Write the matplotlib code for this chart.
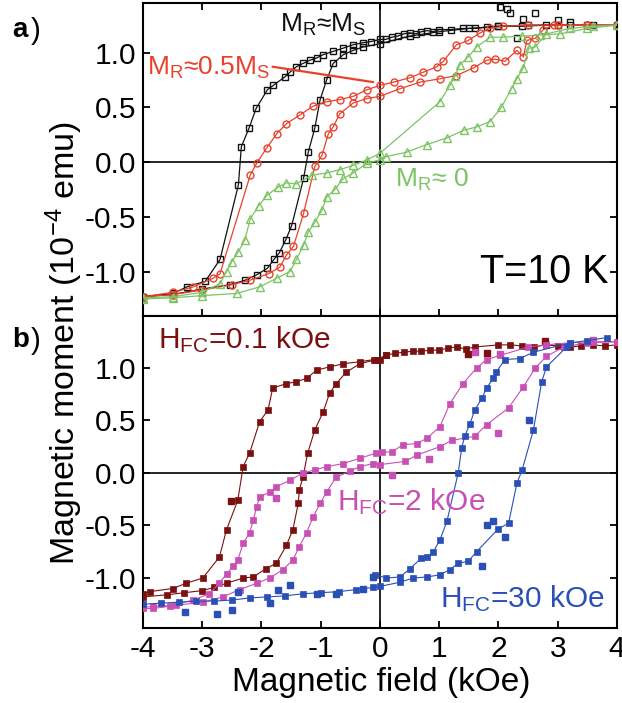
import matplotlib.pyplot as plt

# fonts: Arial-like text, mathtext in the same family
plt.rcParams['font.family'] = ['Liberation Sans', 'DejaVu Sans']
plt.rcParams['mathtext.fontset'] = 'custom'
plt.rcParams['mathtext.rm'] = 'Liberation Sans'
plt.rcParams['mathtext.it'] = 'Liberation Sans:italic'
plt.rcParams['mathtext.bf'] = 'Liberation Sans:bold'
plt.rcParams['axes.unicode_minus'] = False

# ---------------- panel a data ----------------
# black squares, M_R ~ M_S
black_dn_x = [3.6, 3.2, 2.8, 2.4, 2.0, 1.8, 1.6, 1.4, 1.2, 1.0, 0.9, 0.8, 0.7, 0.6, 0.5, 0.4, 0.3, 0.2, 0.1, 0.0,
              -0.15, -0.29, -0.46, -0.62, -0.79, -0.96, -1.07, -1.18, -1.30, -1.41, -1.52, -1.60, -1.80, -1.90,
              -2.09, -2.21, -2.34, -2.39, -2.70, -2.95, -3.26, -3.49, -4.0]
black_dn_y = [1.25, 1.25, 1.25, 1.24, 1.24, 1.23, 1.22, 1.22, 1.21, 1.21, 1.19, 1.20, 1.19, 1.17, 1.18, 1.17, 1.15, 1.14, 1.12, 1.12,
              1.10, 1.09, 1.07, 1.04, 1.01, 0.98, 0.95, 0.93, 0.90, 0.87, 0.82, 0.78, 0.70, 0.66,
              0.49, 0.31, 0.14, -0.21, -0.89, -1.09, -1.14, -1.20, -1.23]
black_up_x = [-4.0, -3.5, -3.0, -2.53, -2.28, -2.08, -1.90, -1.79, -1.70, -1.59, -1.49, -1.29, -1.21, -1.10,
              -1.01, -0.90, -0.79, -0.62, -0.45, -0.29, 0.0, 0.5, 1.0, 1.5, 2.0, 2.5, 3.0, 3.5, 4.0]
black_up_y = [-1.23, -1.21, -1.16, -1.12, -1.08, -1.03, -0.97, -0.89, -0.83, -0.71, -0.58, -0.15, 0.09, 0.31,
              0.57, 0.75, 0.90, 0.98, 1.02, 1.05, 1.08, 1.15, 1.19, 1.22, 1.24, 1.25, 1.25, 1.25, 1.25]
black_ex_x = [2.03, 2.14, 2.19, 2.31, 2.42, 2.62, 3.0, 3.2]
black_ex_y = [1.42, 1.40, 1.36, 1.13, 1.31, 1.36, 1.30, 1.28]

# red circles, M_R ~ 0.5 M_S
red_dn_x = [4.0, 3.5, 3.0, 2.5, 2.08, 1.86, 1.69, 1.49, 1.29, 1.07, 0.96, 0.73, 0.51, 0.23, 0.0, -0.22,
            -0.45, -0.68, -0.90, -1.13, -1.35, -1.58, -1.74, -1.91, -2.08, -2.19, -2.70, -2.81, -3.15, -3.5, -4.0]
red_dn_y = [1.25, 1.25, 1.25, 1.25, 1.24, 1.22, 1.18, 1.11, 1.07, 0.92, 0.87, 0.82, 0.77, 0.73, 0.70, 0.66,
            0.60, 0.57, 0.55, 0.51, 0.43, 0.35, 0.26, 0.13, -0.01, -0.12, -1.02, -1.06, -1.14, -1.19, -1.23]
red_up_x = [-4.0, -3.5, -3.0, -2.5, -2.2, -1.88, -1.69, -1.58, -1.46, -1.29, -1.10, -0.98, -0.87, -0.79,
            -0.68, -0.45, -0.22, 0.0, 0.34, 0.68, 1.01, 1.29, 1.58, 1.80, 1.94, 2.11, 2.31, 2.42, 2.48, 2.62,
            2.76, 2.93, 3.5, 4.0]
red_up_y = [-1.23, -1.21, -1.17, -1.12, -1.08, -1.02, -0.96, -0.85, -0.77, -0.47, -0.04, 0.06, 0.26, 0.32,
            0.44, 0.54, 0.58, 0.60, 0.67, 0.73, 0.76, 0.79, 0.86, 0.93, 0.94, 0.92, 1.02, 0.96, 1.11, 1.13,
            1.21, 1.25, 1.25, 1.25]

# green triangles, M_R ~ 0
green_dn_x = [4.0, 3.5, 3.04, 2.70, 2.40, 2.08, 1.86, 1.63, 1.49, 1.35, 1.27, 1.18, 1.01, 0.0, -0.22, -0.45,
              -0.68, -0.90, -1.15, -1.41, -1.58, -1.72, -1.90, -2.05, -2.19, -2.28, -2.39, -2.50, -2.59,
              -2.70, -3.0, -3.5, -4.0]
green_dn_y = [1.25, 1.22, 1.17, 1.16, 1.15, 1.14, 1.14, 1.05, 0.96, 0.89, 0.79, 0.70, 0.55, 0.08, 0.02, -0.03,
              -0.07, -0.10, -0.12, -0.20, -0.19, -0.23, -0.30, -0.40, -0.52, -0.71, -0.82, -0.91, -1.00,
              -1.11, -1.19, -1.23, -1.24]
green_up_x = [-4.0, -3.5, -3.0, -2.42, -2.03, -1.74, -1.52, -1.41, -1.29, -1.21, -1.10, -0.98, -0.90, -0.76,
              -0.62, -0.45, -0.22, 0.0, 0.11, 0.45, 0.79, 1.13, 1.41, 1.63, 1.86, 2.05, 2.22, 2.31, 2.42,
              2.51, 2.62, 2.81, 3.2, 3.6, 4.0]
green_up_y = [-1.25, -1.24, -1.22, -1.20, -1.14, -1.06, -1.00, -0.89, -0.76, -0.64, -0.55, -0.44, -0.32, -0.25,
              -0.15, -0.10, -0.01, 0.02, 0.05, 0.09, 0.16, 0.22, 0.29, 0.32, 0.37, 0.50, 0.67, 0.76, 0.86,
              1.04, 1.05, 1.17, 1.22, 1.24, 1.25]

# ---------------- panel b data ----------------
# dark red, H_FC = 0.1 kOe
dr_dn_x = [4.0, 3.8, 3.6, 3.4, 3.2, 3.0, 2.8, 2.6, 2.4, 2.2, 2.0, 1.6, 1.45, 1.3, 1.15, 1.0, 0.85, 0.7, 0.55,
           0.4, 0.25, 0.1, 0.0, -0.1, -0.34, -0.62, -0.85, -1.07, -1.24, -1.41, -1.58, -1.81, -1.89, -2.03,
           -2.20, -2.31, -2.40, -2.59, -2.71, -2.99, -3.27, -3.50, -3.89, -4.0]
dr_dn_y = [1.22, 1.21, 1.22, 1.21, 1.20, 1.21, 1.22, 1.20, 1.21, 1.22, 1.22, 1.20, 1.18, 1.20, 1.19, 1.17, 1.17,
           1.16, 1.16, 1.15, 1.14, 1.12, 1.08, 1.08, 1.06, 1.04, 1.01, 0.98, 0.90, 0.87, 0.85, 0.81, 0.60, 0.49,
           0.19, 0.06, -0.26, -0.54, -0.80, -1.00, -1.05, -1.10, -1.13, -1.15]
dr_up_x = [-4.0, -3.6, -3.3, -3.0, -2.8, -2.59, -2.31, -2.14, -1.92, -1.75, -1.58, -1.47, -1.38, -1.36, -1.30,
           -1.22, -1.10, -0.96, -0.85, -0.74, -0.57, -0.34, -0.06, 0.1]
dr_up_y = [-1.18, -1.16, -1.14, -1.12, -1.09, -1.05, -1.00, -0.99, -0.91, -0.86, -0.69, -0.54, -0.29, -0.16,
           -0.04, 0.19, 0.41, 0.58, 0.76, 0.85, 0.96, 1.04, 1.08, 1.12]
dr_ex_x = [1.80, -2.51, 2.78, 1.49]
dr_ex_y = [1.14, -0.27, 1.26, 1.13]

# magenta, H_FC = 2 kOe
mg_dn_x = [4.0, 3.6, 3.2, 2.8, 2.5, 2.03, 1.80, 1.63, 1.40, 1.18, 1.01, 0.79, 0.62, 0.39, 0.20, 0.03, -0.06,
           -0.34, -0.62, -0.90, -1.10, -1.30, -1.52, -1.75, -1.86, -2.03, -2.08, -2.14, -2.20, -2.31, -2.40,
           -2.48, -2.59, -2.71, -2.88, -3.16, -3.55, -3.83, -4.0]
mg_dn_y = [1.25, 1.25, 1.24, 1.22, 1.20, 1.12, 1.08, 1.00, 0.85, 0.66, 0.44, 0.33, 0.28, 0.27, 0.20, 0.20, 0.19,
           0.14, 0.09, 0.06, 0.03, 0.00, -0.07, -0.13, -0.18, -0.23, -0.32, -0.45, -0.57, -0.67, -0.83,
           -0.89, -0.96, -1.05, -1.15, -1.21, -1.27, -1.29, -1.29]
mg_up_x = [-4.0, -3.83, -3.44, -2.99, -2.65, -2.37, -2.08, -1.86, -1.64, -1.47, -1.36, -1.24, -1.13, -1.01,
           -0.90, -0.74, -0.50, -0.34, -0.12, 0.0, 0.42, 0.62, 1.01, 1.21, 1.60, 1.80, 2.17, 2.42,
           2.62, 2.81, 3.1, 3.5, 4.0]
mg_up_y = [-1.28, -1.27, -1.26, -1.23, -1.18, -1.11, -1.05, -1.00, -0.92, -0.83, -0.70, -0.57, -0.42, -0.29,
           -0.18, -0.04, 0.02, 0.06, 0.09, 0.08, 0.11, 0.17, 0.25, 0.31, 0.35, 0.46, 0.62, 0.82,
           1.00, 1.11, 1.20, 1.24, 1.25]
mg_ex_x = [0.20, -1.75, 1.60, 2.03, 3.6, 0.82, 2.0]
mg_ex_y = [-0.02, -0.24, 1.15, 1.13, 1.27, 0.13, 0.38]

# blue, H_FC = 30 kOe
bl_dn_x = [3.83, 3.49, 3.21, 2.59, 2.36, 2.11, 1.96, 1.91, 1.80, 1.72, 1.60, 1.52, 1.43, 1.38, 1.32, 1.13, 1.01,
           0.90, 0.79, 0.70, 0.51, 0.34, 0.11, -0.08]
bl_dn_y = [1.29, 1.26, 1.24, 1.15, 1.09, 1.08, 0.96, 0.90, 0.81, 0.71, 0.60, 0.47, 0.35, 0.24, 0.0, -0.46, -0.64,
           -0.75, -0.80, -0.81, -0.91, -0.99, -1.00, -0.97]
bl_up_x = [-4.0, -3.7, -3.4, -3.1, -2.8, -2.5, -2.2, -1.9, -1.6, -1.3, -1.0, -0.7, -0.4, -0.12, 0.0, 0.34, 0.56,
           0.79, 1.01, 1.18, 1.32, 1.49, 1.63, 2.0, 2.17, 2.31, 2.40, 2.59, 2.73, 2.81, 3.15]
bl_up_y = [-1.25, -1.24, -1.23, -1.22, -1.22, -1.21, -1.19, -1.18, -1.17, -1.15, -1.14, -1.13, -1.11, -1.09,
           -1.08, -1.04, -1.00, -0.99, -0.97, -0.92, -0.86, -0.84, -0.75, -0.53, -0.48, -0.10, 0.03, 0.41,
           0.87, 1.01, 1.20]
bl_ex_x = [-3.29, -2.75, -2.50, -2.39, -1.86, -1.72, -1.52, -1.07, -0.74, -0.29, -0.12, 1.80, 1.91, 2.11, 1.72, 2.51]
bl_ex_y = [-1.32, -1.34, -1.30, -1.13, -1.24, -1.11, -1.07, -1.15, -1.15, -1.10, -0.99, -0.50, -0.46, -0.61, -0.89, 0.50]

# colours
c_black = '#111111'
c_red = '#e8412c'
c_green = '#7cc464'
c_dred = '#7b1010'
c_mag = '#c84fb4'
c_blue = '#2a50b8'

x_ticks = [-4, -3, -2, -1, 0, 1, 2, 3, 4]
y_ticks = [-1.0, -0.5, 0.0, 0.5, 1.0]

fig = plt.figure(figsize=(6.22, 7.03), dpi=100)
ax_a = fig.add_axes([0.2299, 0.5505, 0.762, 0.4452])
ax_b = fig.add_axes([0.2299, 0.1067, 0.762, 0.4438])

for ax in (ax_a, ax_b):
    ax.set_xlim(-4, 4)
    ax.set_xticks(x_ticks)
    ax.set_yticks(y_ticks)
    ax.set_yticklabels(['%.1f' % v for v in y_ticks])
    ax.axhline(0, color='k', lw=1.2, zorder=1)
    ax.axvline(0, color='k', lw=1.2, zorder=1)
    for s in ax.spines.values():
        s.set_linewidth(1.5)
    ax.tick_params(direction='in', length=5, width=1.3, labelsize=21.5, pad=5, right=True)

ax_a.set_ylim(-1.406, 1.452)
ax_b.set_ylim(-1.476, 1.495)
ax_a.tick_params(top=True, labelbottom=False)
ax_b.tick_params(top=False)
ax_b.set_xticklabels([str(v) for v in x_ticks])


def open_branch(ax, x, y, color, marker, ms):
    ax.plot(x, y, '-', color=color, lw=0.9, marker=marker, ms=ms, mfc='none', mec=color, mew=1.0, zorder=3)


def filled_branch(ax, x, y, color):
    ax.plot(x, y, '-', color=color, lw=0.8, marker='s', ms=4.6, mfc=color, mec=color, mew=0.5, zorder=3)


# panel a
open_branch(ax_a, black_dn_x, black_dn_y, c_black, 's', 4.8)
open_branch(ax_a, black_up_x, black_up_y, c_black, 's', 4.8)
ax_a.plot(black_ex_x, black_ex_y, 's', ms=4.8, mfc='none', mec=c_black, mew=1.0, zorder=3)
open_branch(ax_a, red_dn_x, red_dn_y, c_red, 'o', 5.0)
open_branch(ax_a, red_up_x, red_up_y, c_red, 'o', 5.0)
open_branch(ax_a, green_dn_x, green_dn_y, c_green, '^', 5.4)
open_branch(ax_a, green_up_x, green_up_y, c_green, '^', 5.4)

ax_a.text(-1.69, 1.19, r'M$_\mathrm{R}$≈M$_\mathrm{S}$', fontsize=19, color=c_black, zorder=5)
ax_a.text(-3.93, 0.795, r'M$_\mathrm{R}$≈0.5M$_\mathrm{S}$', fontsize=19, color=c_red, zorder=5)
ax_a.plot([-1.81, -0.12], [0.87, 0.73], color=c_red, lw=1.6, zorder=5)
ax_a.text(0.25, -0.23, r'M$_\mathrm{R}$≈ 0', fontsize=19, color=c_green, zorder=5)
ax_a.text(3.85, -1.105, 'T=10 K', fontsize=28.5, color='k', ha='right', zorder=5)

# panel b
filled_branch(ax_b, dr_dn_x, dr_dn_y, c_dred)
filled_branch(ax_b, dr_up_x, dr_up_y, c_dred)
ax_b.plot(dr_ex_x, dr_ex_y, 's', ms=4.6, color=c_dred, zorder=3)
filled_branch(ax_b, mg_dn_x, mg_dn_y, c_mag)
filled_branch(ax_b, mg_up_x, mg_up_y, c_mag)
ax_b.plot(mg_ex_x, mg_ex_y, 's', ms=4.6, color=c_mag, zorder=3)
filled_branch(ax_b, bl_dn_x, bl_dn_y, c_blue)
filled_branch(ax_b, bl_up_x, bl_up_y, c_blue)
ax_b.plot(bl_ex_x, bl_ex_y, 's', ms=4.6, color=c_blue, zorder=3)

ax_b.text(-3.75, 1.19, r'H$_\mathrm{FC}$=0.1 kOe', fontsize=21.5, color=c_dred, zorder=5)
ax_b.text(-0.73, -0.355, r'H$_\mathrm{FC}$=2 kOe', fontsize=21.5, color=c_mag, zorder=5)
ax_b.text(1.01, -1.275, r'H$_\mathrm{FC}$=30 kOe', fontsize=21.5, color=c_blue, zorder=5)

# panel letters and axis labels
fig.text(12 / 622, 1 - 37 / 703, 'a', fontsize=20, fontweight='bold')
fig.text(31 / 622, 1 - 39 / 703, ')', fontsize=21)
fig.text(12 / 622, 1 - 347 / 703, 'b', fontsize=20, fontweight='bold')
fig.text(31 / 622, 1 - 349 / 703, ')', fontsize=21)
fig.text(64 / 622, 1 - 343 / 703, r'Magnetic moment (10$^{-4}$ emu)', rotation=90, ha='center', va='center',
         fontsize=24.5)
fig.text(381 / 622, 1 - 682 / 703, 'Magnetic field (kOe)', ha='center', va='center', fontsize=24)

plt.savefig('out.png', dpi=100)
